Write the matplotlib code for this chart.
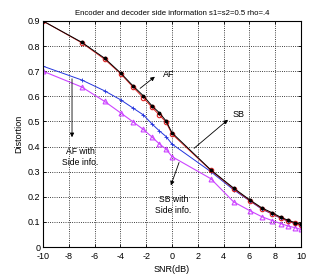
import numpy as np
import matplotlib
matplotlib.use('Agg')
import matplotlib.pyplot as plt

plt.rcParams['font.family'] = ['Liberation Sans Narrow', 'Liberation Sans', 'DejaVu Sans']
plt.rcParams['axes.unicode_minus'] = False

# SNR points (dB)
snr = [-10, -6.99, -5.23, -3.98, -3.01, -2.22, -1.55, -0.97, -0.46, 0,
       3.01, 4.77, 6.02, 6.99, 7.78, 8.45, 9.03, 9.54, 10]

af = [0.900, 0.813, 0.748, 0.690, 0.636, 0.594, 0.556, 0.525, 0.497, 0.450,
      0.305, 0.232, 0.185, 0.152, 0.132, 0.115, 0.103, 0.094, 0.087]
sb = [0.900, 0.815, 0.752, 0.693, 0.641, 0.602, 0.562, 0.534, 0.502, 0.455,
      0.307, 0.235, 0.188, 0.155, 0.136, 0.118, 0.106, 0.097, 0.090]
af_side = [0.720, 0.665, 0.622, 0.586, 0.553, 0.526, 0.490, 0.462, 0.440, 0.410,
           0.300, 0.228, 0.184, 0.150, 0.131, 0.114, 0.102, 0.093, 0.085]
sb_side = [0.700, 0.637, 0.580, 0.534, 0.498, 0.468, 0.438, 0.410, 0.390, 0.360,
           0.272, 0.180, 0.145, 0.120, 0.105, 0.093, 0.083, 0.077, 0.070]

xticks = [-10, -8, -6, -4, -2, 0, 2, 4, 6, 8, 10]
yticks = [0, 0.1, 0.2, 0.3, 0.4, 0.5, 0.6, 0.7, 0.8, 0.9]
ytick_labels = ['0', '0.1', '0.2', '0.3', '0.4', '0.5', '0.6', '0.7', '0.8', '0.9']

fig = plt.figure(figsize=(3.32, 2.77), dpi=100)
ax = fig.add_axes([0.1295, 0.1083, 0.7771, 0.8159])

mag = '#cc44ff'
ax.plot(snr, sb_side, color=mag, lw=0.8, marker='^', ms=3.5, mfc='none', mec=mag, mew=0.8)
ax.plot(snr, af_side, color='#2233dd', lw=0.7, marker='+', ms=2.5, mew=0.6)
ax.plot(snr, af, color='#dd2222', lw=0.7, marker='o', ms=3.2, mfc='none', mec='#dd2222', mew=0.8)
ax.plot(snr, sb, color='black', lw=0.7, marker='.', ms=3.5)

ax.set_xlim(-10, 10)
ax.set_ylim(0, 0.9)
ax.set_xticks(xticks)
ax.set_xticklabels([str(t) for t in xticks])
ax.set_yticks(yticks)
ax.set_yticklabels(ytick_labels)
ax.tick_params(direction='in', top=True, right=True, length=2, labelsize=6.5, width=0.6)
ax.tick_params(axis='x', pad=3.5)
ax.tick_params(axis='y', pad=2)
ax.grid(True, linestyle=':', color='black', lw=0.6)
for s in ax.spines.values():
    s.set_linewidth(0.8)

ax.set_title('Encoder and decoder side information s1=s2=0.5 rho=.4', fontsize=5.6, pad=4)
ax.set_xlabel('SNR(dB)', fontsize=6.5, labelpad=3)
ax.set_ylabel('Distortion', fontsize=6.5, labelpad=3)

arr = dict(arrowstyle='-|>', color='black', lw=0.6, mutation_scale=6)
ax.annotate('', xy=(-1.16, 0.685), xytext=(-2.64, 0.625), arrowprops=arr)
ax.text(-0.7, 0.685, 'AF', fontsize=6.5, va='center', ha='left')
ax.annotate('', xy=(4.5, 0.514), xytext=(1.55, 0.386), arrowprops=arr)
ax.text(4.73, 0.526, 'SB', fontsize=6.5, va='center', ha='left')
ax.annotate('', xy=(-7.75, 0.426), xytext=(-7.75, 0.681), arrowprops=arr)
ax.text(-7.1, 0.36, 'AF with\nSide info.', fontsize=6.2, va='center', ha='center', linespacing=1.3)
ax.annotate('', xy=(-0.16, 0.235), xytext=(0.62, 0.347), arrowprops=arr)
ax.text(0.1, 0.167, 'SB with\nSide info.', fontsize=6.2, va='center', ha='center', linespacing=1.3)

fig.savefig('out.png', dpi=100)
